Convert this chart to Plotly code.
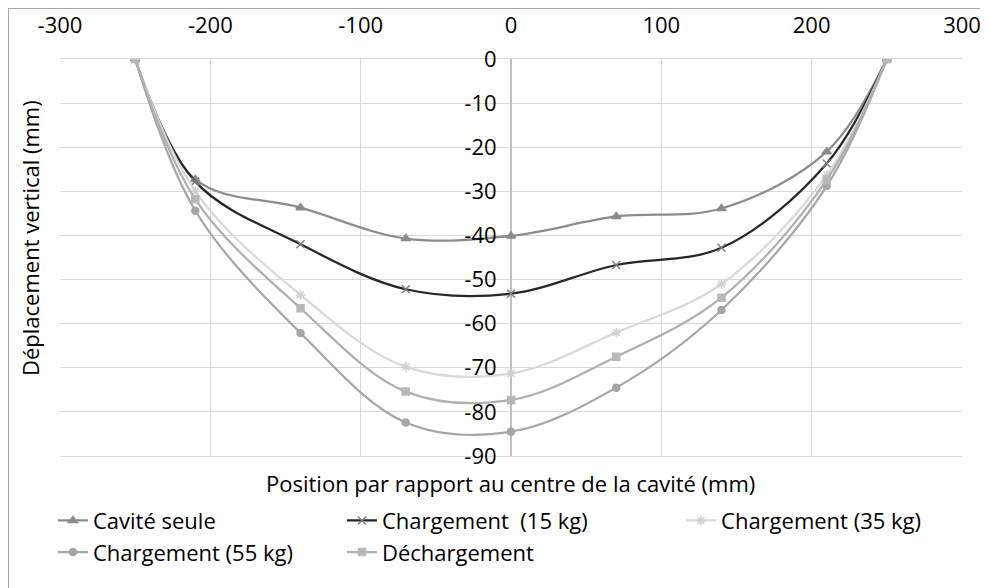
import plotly.graph_objects as go

positions = [-250, -210, -140, -70, 0, 70, 140, 210, 250]

cavite_seule = [0, -27.3, -33.7, -40.7, -40.1, -35.7, -33.9, -21.0, 0]
charg_15 = [0, -27.8, -42.0, -52.2, -53.2, -46.7, -42.8, -23.7, 0]
charg_35 = [0, -30.0, -53.5, -69.8, -71.3, -62.0, -51.0, -26.3, 0]
charg_55 = [0, -34.4, -62.1, -82.4, -84.5, -74.5, -56.9, -28.8, 0]
dechargement = [0, -31.8, -56.5, -75.4, -77.3, -67.5, -54.1, -27.4, 0]

x_ticks = [-300, -200, -100, 0, 100, 200, 300]
y_ticks = [0, -10, -20, -30, -40, -50, -60, -70, -80, -90]

FONT = "Open Sans"
fig = go.Figure()

series = [
    ("Cavité seule", cavite_seule, "#8c8c8c", "#8c8c8c", "triangle-up", 8, "legend"),
    ("Chargement  (15 kg)", charg_15, "#262626", "#808080", "x-thin", 8, "legend2"),
    ("Chargement (35 kg)", charg_35, "#d9d9d9", "#d0d0d0", "asterisk", 8, "legend3"),
    ("Chargement (55 kg)", charg_55, "#a6a6a6", "#a6a6a6", "circle", 7, "legend"),
    ("Déchargement", dechargement, "#b0b0b0", "#b8b8b8", "square", 7, "legend2"),
]

for name, ys, lc, mc, sym, ms, lg in series:
    fig.add_trace(go.Scatter(
        x=positions, y=ys, name=name, mode="lines+markers",
        line=dict(color=lc, width=2.25, shape="spline", smoothing=1.0),
        marker=dict(symbol=sym, size=ms, color=mc,
                    line=dict(color=mc, width=1.5)),
        legend=lg,
    ))

legend_common = dict(
    orientation="v", yanchor="top", xanchor="left",
    font=dict(family=FONT, size=22, color="#000000"),
    bgcolor="rgba(0,0,0,0)", itemwidth=30, tracegroupgap=0,
)

fig.update_layout(
    width=980, height=580,
    margin=dict(l=52, r=26, t=51, b=132, autoexpand=False),
    paper_bgcolor="white", plot_bgcolor="white",
    font=dict(family=FONT, size=22, color="#000000"),
    showlegend=True,
    legend=dict(x=-0.0078, y=-0.11, **legend_common),
    legend2=dict(x=0.3126, y=-0.11, **legend_common),
    legend3=dict(x=0.6885, y=-0.11, **legend_common),
    xaxis=dict(
        range=[-300, 300], side="top", tickvals=x_ticks,
        ticktext=[str(v) for v in x_ticks], automargin=False,
        showgrid=True, gridcolor="#d9d9d9", gridwidth=1,
        zeroline=True, zerolinecolor="#bfbfbf", zerolinewidth=1.5,
        showline=True, mirror=True, linecolor="#d9d9d9", linewidth=1,
        ticks="outside", ticklen=16, tickcolor="rgba(0,0,0,0)",
        tickfont=dict(family=FONT, size=22, color="#000000"),
    ),
    yaxis=dict(
        range=[-90, 0], tickvals=y_ticks,
        ticktext=[str(v) for v in y_ticks], automargin=False,
        anchor="free", position=0.5,
        showgrid=True, gridcolor="#d9d9d9", gridwidth=1,
        zeroline=False, showline=False,
        ticks="outside", ticklen=10, tickcolor="rgba(0,0,0,0)",
        tickfont=dict(family=FONT, size=22, color="#000000"),
    ),
    annotations=[
        dict(text="Déplacement vertical (mm)", xref="paper", yref="paper",
             x=-0.0333, y=0.549, textangle=-90, showarrow=False,
             xanchor="center", yanchor="middle",
             font=dict(family=FONT, size=22, color="#000000")),
        dict(text="Position par rapport au centre de la cavité (mm)",
             xref="paper", yref="paper", x=0.4989, y=-0.068,
             xanchor="center", yanchor="middle", showarrow=False,
             font=dict(family=FONT, size=22, color="#000000")),
    ],
    shapes=[
        dict(type="rect", xref="paper", yref="paper",
             x0=-0.0571, x1=1.1, y0=-0.4, y1=1.1272,
             line=dict(color="#a6a6a6", width=1), layer="below"),
    ],
)

fig.write_html("out.html")
